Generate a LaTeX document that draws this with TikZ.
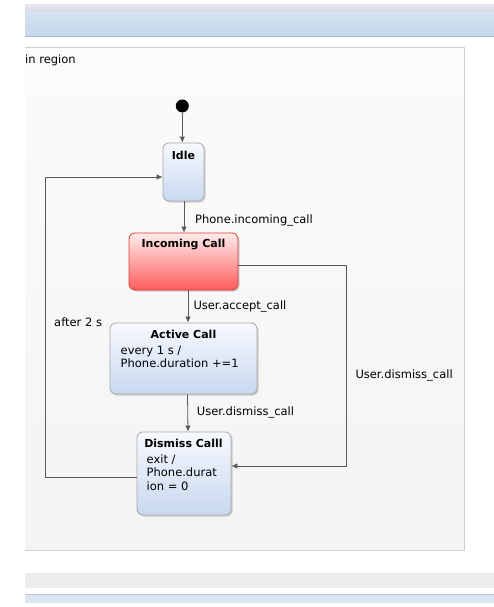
\documentclass[tikz,border=0pt]{standalone}
\usepackage{fontspec}
\setmainfont{DejaVu Sans}
\usetikzlibrary{arrows.meta,shadows}
\definecolor{edgegray}{HTML}{595959}
\definecolor{stateborder}{HTML}{A8A8A8}
\definecolor{statetop}{HTML}{F7F9FE}
\definecolor{statebot}{HTML}{C8D8F0}
\definecolor{redtop}{HTML}{FFECEC}
\definecolor{redbot}{HTML}{FF5C5C}
\definecolor{redborder}{HTML}{E03A3A}
\definecolor{regionborder}{HTML}{CFCFCF}
\definecolor{bartop}{HTML}{E6E7EF}
\definecolor{barbot}{HTML}{D6D8E4}
\definecolor{bluetop}{HTML}{D3E2F1}
\definecolor{bluebot}{HTML}{C6D8EB}
\definecolor{blueline}{HTML}{A9BCD6}
\definecolor{lowgray}{HTML}{ECECEC}
\definecolor{lowblue}{HTML}{DDE5F4}
\definecolor{lowline}{HTML}{BAC6DA}
\begin{document}
\begin{tikzpicture}[x=1pt,y=-1pt,
  every node/.style={font=\fontsize{11.5}{13.5}\selectfont,inner sep=0pt},
  state/.style={draw=stateborder,line width=0.8pt,rounded corners=6pt,
    top color=statetop,bottom color=statebot,
    drop shadow={opacity=0.35,shadow xshift=1.5pt,shadow yshift=-1.5pt}},
  hot/.style={state,draw=redborder,top color=redtop,bottom color=redbot},
  ttl/.style={font=\fontsize{11}{13}\bfseries\selectfont},
  body/.style={anchor=north west,align=left},
  trans/.style={draw=edgegray,line width=0.8pt,->},
  lbl/.style={anchor=west},
  >={Latex[length=6pt,width=5.5pt]}]
\useasboundingbox (0,0) rectangle (494,607);
\fill[white] (0,0) rectangle (494,607);
% window bars
\fill[top color=bartop,bottom color=barbot] (25,5) rectangle (494,12.5);
\fill[top color=bluetop,bottom color=bluebot] (25,13) rectangle (494,36);
\draw[blueline,line width=0.8pt] (25,36) -- (494,36);
\fill[lowgray] (25,573) rectangle (494,588);
\fill[lowblue] (25,594) rectangle (494,603);
\draw[lowline,line width=0.8pt] (25,594) -- (494,594);
% region
\fill[top color=gray!3,bottom color=gray!9] (25,48) rectangle (464,550);
\draw[regionborder,line width=1pt] (25,48) -- (464,48) -- (464,550) -- (25,550);
\node[lbl] (region) at (25,60) {in region};
% states
\node[circle,fill=black,minimum size=13pt] (init) at (182.3,106) {};
\node[state,minimum width=41pt,minimum height=58pt] (idle) at (183.5,172) {};
\node[ttl] (idlet) at (183.5,155) {Idle};
\node[hot,minimum width=109pt,minimum height=57pt] (inc) at (183.5,261.5) {};
\node[ttl] (inct) at (183.5,245) {Incoming Call};
\node[state,minimum width=147pt,minimum height=71pt] (act) at (183.5,358.5) {};
\node[ttl] (actt) at (183.5,334.3) {Active Call};
\node[body] (actb) at (120.5,345.5) {every 1 s /\\Phone.duration +=1};
\node[state,minimum width=94pt,minimum height=83pt] (dis) at (184,473.5) {};
\node[ttl] (dist) at (183.5,443.3) {Dismiss Calll};
\node[body] (disb) at (146.5,454.5) {exit /\\Phone.durat\\ion = 0};
% transitions
\draw[trans] (init) -- (idle.north -| init);
\draw[trans] ([xshift=0.5pt]idle.south) -- ([xshift=0.5pt]inc.north);
\draw[trans] ([xshift=4.5pt]inc.south) -- ([xshift=4.5pt]act.north);
\draw[trans] ([xshift=4pt]act.south) -- ([xshift=4pt]dis.north);
\draw[trans] ([yshift=-3.5pt]inc.east) -| (346,466) -- (dis.east |- 0,466);
\draw[trans] ([yshift=-3.5pt]dis.west) -| (45,177) -- (idle.west |- 0,177);
\node[lbl] (l1) at (195,220.7) {Phone.incoming\_call};
\node[lbl] (l2) at (193.3,306) {User.accept\_call};
\node[lbl] (l3) at (54,322.3) {after 2 s};
\node[lbl] (l4) at (355.3,375) {User.dismiss\_call};
\node[lbl] (l5) at (196.7,412.7) {User.dismiss\_call};
\end{tikzpicture}
\end{document}
